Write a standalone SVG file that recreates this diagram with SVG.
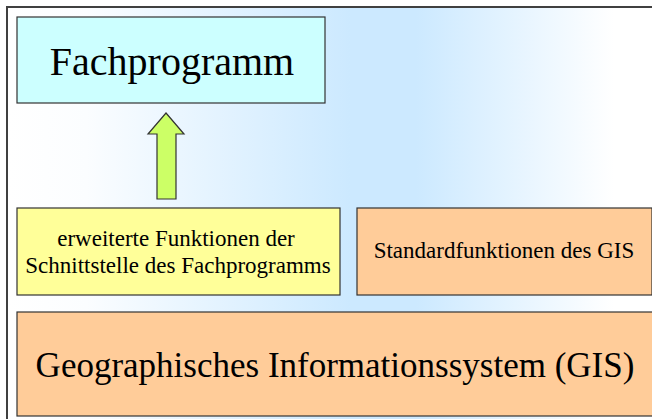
<svg xmlns="http://www.w3.org/2000/svg" width="652" height="419" viewBox="0 0 652 419">
<defs>
<linearGradient id="bg" x1="0" y1="0" x2="1" y2="0">
<stop offset="0" stop-color="#ffffff"/>
<stop offset="0.12" stop-color="#fbfdff"/>
<stop offset="0.52" stop-color="#cce9ff"/>
<stop offset="0.62" stop-color="#cce9ff"/>
<stop offset="0.92" stop-color="#ffffff"/>
<stop offset="1" stop-color="#ffffff"/>
</linearGradient>
<style>
.box{stroke:#333333;stroke-width:1.2}
.t{font-family:'Liberation Serif','Times New Roman',serif;fill:#000000;text-anchor:middle}
</style>
</defs>
<rect x="0" y="0" width="652" height="419" fill="#ffffff"/>
<rect x="7" y="7" width="660" height="430" fill="url(#bg)" stroke="#404040" stroke-width="2"/>
<g id="fachprogramm">
<rect class="box" x="17" y="17" width="308" height="86" fill="#ccffff"/>
<text class="t" font-family="Liberation Serif, serif" x="172" y="75" font-size="40">Fachprogramm</text>
</g>
<g id="connectors">
<polygon points="166,113 184,134 176,134 176,199 157,199 157,134 148,134" fill="#ccff66" stroke="#333333" stroke-width="1.2"/>
</g>
<g id="erweitert">
<rect class="box" x="17" y="208" width="323" height="87" fill="#ffff99"/>
<text class="t" font-family="Liberation Serif, serif" x="176" y="246" font-size="23">erweiterte Funktionen der</text>
<text class="t" font-family="Liberation Serif, serif" x="178" y="273" font-size="23">Schnittstelle des Fachprogramms</text>
</g>
<g id="standard">
<rect class="box" x="357" y="208" width="295" height="87" fill="#ffcc99"/>
<text class="t" font-family="Liberation Serif, serif" x="504" y="258" font-size="23">Standardfunktionen des GIS</text>
</g>
<g id="gis">
<rect class="box" x="17" y="312" width="636" height="104" fill="#ffcc99"/>
<text class="t" font-family="Liberation Serif, serif" x="335" y="377" font-size="35">Geographisches Informationssystem (GIS)</text>
</g>
</svg>
